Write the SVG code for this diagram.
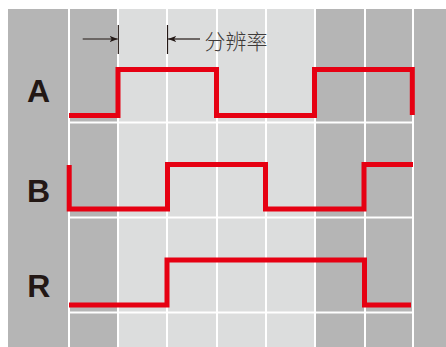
<svg xmlns="http://www.w3.org/2000/svg" width="446" height="347" viewBox="0 0 446 347">
<defs>
<style>
.bg-dark{fill:#b5b5b5}
.bg-light{fill:#dcdddd}
.grid{stroke:#ffffff;stroke-width:2;fill:none}
.wave{stroke:#e60012;stroke-width:5;fill:none;stroke-linejoin:miter;stroke-linecap:butt}
.lbl{font-family:"Liberation Sans",Arial,sans-serif;font-weight:bold;font-size:32px;fill:#231815;text-anchor:middle}
.dim{stroke:#231815;stroke-width:1.2;fill:none}
.note{font-family:"Noto Sans CJK SC","Noto Sans",sans-serif;font-size:21px;font-weight:300;fill:#3e3a39}
</style>
<marker id="ah" viewBox="0 0 8 6" refX="8" refY="3" markerWidth="8" markerHeight="6" markerUnits="userSpaceOnUse" orient="auto">
<path d="M0,0 L8,3 L0,6 L2,3 Z" fill="#231815"/>
</marker>
</defs>
<g id="background">
<rect class="bg-dark" x="8" y="9" width="438" height="338"/>
<rect class="bg-light" x="118" y="9" width="197" height="338"/>
</g>
<g id="grid">
<path class="grid" d="M69,9V347M118,9V347M167,9V347M217,9V347M266,9V347M315,9V347M365,9V347M413,9V347"/>
<path class="grid" d="M69,122.5H413M69,217.5H413M69,312.5H413"/>
</g>
<g id="labels">
<text class="lbl" x="38.5" y="101.5">A</text>
<text class="lbl" x="38.5" y="202">B</text>
<text class="lbl" x="38.8" y="296.5">R</text>
</g>
<g id="connectors">
<path id="wave-A" class="wave" d="M69,115.5H118V69.5H216.5V115.5H314.5V69.5H412.3V115"/>
<path id="wave-B" class="wave" d="M69.2,165V209H167.5V164.5H265.5V209H364V164.5H413"/>
<path id="wave-R" class="wave" d="M69,305H167V260H364.5V305H411"/>
</g>
<g id="resolution">
<path class="dim" d="M118.3,25V54M167.5,25V54"/>
<path class="dim" d="M82.7,39H117.7" marker-end="url(#ah)"/>
<path class="dim" d="M200,39H168.1" marker-end="url(#ah)"/>
<text class="note" x="204.5" y="48.5">分辨率</text>
</g>
</svg>
